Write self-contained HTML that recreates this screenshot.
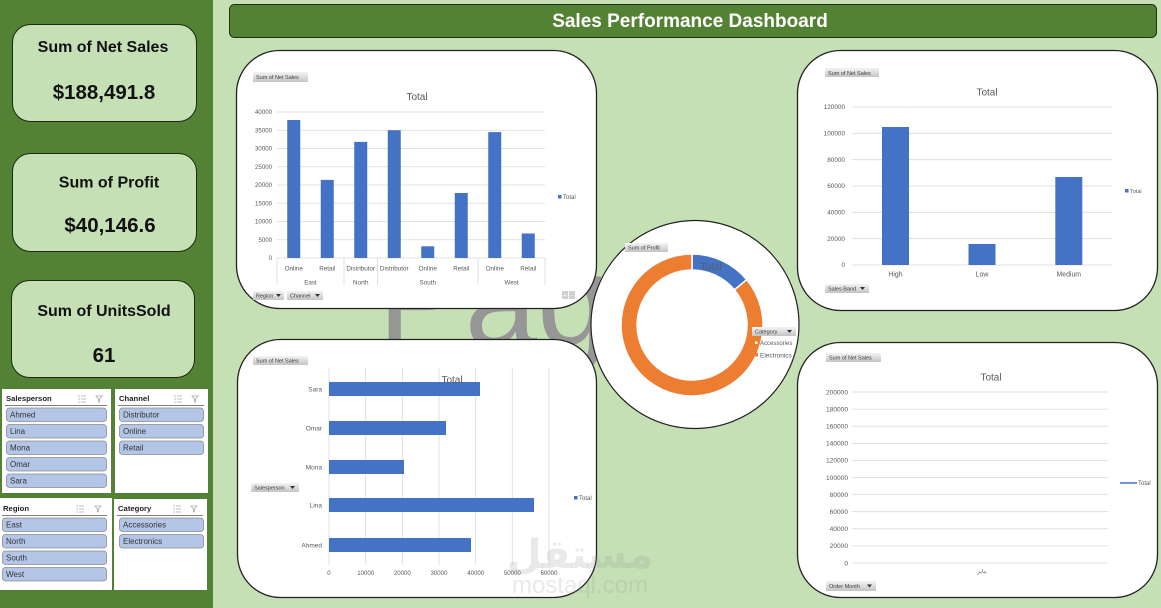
<!DOCTYPE html>
<html><head><meta charset="utf-8"><style>
html,body{margin:0;padding:0;width:1161px;height:608px;overflow:hidden;background:#C5E0B4}
svg{display:block}
text{font-family:"Liberation Sans","DejaVu Sans",sans-serif}
</style></head><body>
<svg width="1161" height="608" viewBox="0 0 1161 608" xmlns="http://www.w3.org/2000/svg">
<defs>
<linearGradient id="btn" x1="0" y1="0" x2="0" y2="1"><stop offset="0" stop-color="#f4f4f4"/><stop offset="1" stop-color="#c4c4c4"/></linearGradient>
</defs>
<rect x="0" y="0" width="1161" height="608" fill="#C5E0B4"/>
<rect x="0" y="0" width="213" height="608" fill="#548235"/>

<!-- watermark Page 1 -->
<text x="378" y="345" font-size="130" fill="#969696">Page 1</text>

<!-- title bar -->
<rect x="229.5" y="4.5" width="927" height="33" rx="5" fill="#548235" stroke="#1f3314" stroke-width="1"/>
<text x="690" y="27" font-size="19" font-weight="bold" fill="#ffffff" text-anchor="middle">Sales Performance Dashboard</text>

<!-- KPI cards -->
<g fill="#111" font-weight="bold" text-anchor="middle">
<rect x="12.5" y="24.5" width="184" height="97" rx="18" fill="#C5E0B4" stroke="#1b2a12"/>
<text x="103" y="52" font-size="16">Sum of Net Sales</text>
<text x="104" y="99" font-size="20.5">$188,491.8</text>
<rect x="12.5" y="153.5" width="184" height="98" rx="18" fill="#C5E0B4" stroke="#1b2a12"/>
<text x="109" y="187.5" font-size="16">Sum of Profit</text>
<text x="110" y="232" font-size="20.5">$40,146.6</text>
<rect x="11.5" y="280.5" width="183" height="97" rx="18" fill="#C5E0B4" stroke="#1b2a12"/>
<text x="104" y="316" font-size="16">Sum of UnitsSold</text>
<text x="104" y="362" font-size="20.5">61</text>
</g>

<!-- slicers -->
<g>
<rect x="2" y="389" width="109" height="104" fill="#fff"/>
<rect x="115" y="389" width="93" height="104" fill="#fff"/>
<rect x="0" y="498" width="112" height="92" fill="#fff"/>
<rect x="114" y="499" width="93" height="91" fill="#fff"/>
<g font-size="7.7" font-weight="bold" fill="#222">
<text x="6" y="401">Salesperson</text>
<text x="119" y="401">Channel</text>
<text x="3" y="511">Region</text>
<text x="118" y="511">Category</text>
</g>
<g stroke="#555" stroke-width="0.8">
<line x1="5" y1="405.5" x2="107" y2="405.5"/>
<line x1="118" y1="405.5" x2="204" y2="405.5"/>
<line x1="2" y1="515.5" x2="107" y2="515.5"/>
<line x1="117" y1="515.5" x2="203" y2="515.5"/>
</g>
<g stroke="#aaa" stroke-width="0.8" fill="none">
<path d="M78 396h2M81 396h5M78 399h2M81 399h5M78 402h2M81 402h5"/>
<path d="M96 396h6l-2.5 3v3l-1 0v-3z"/>
<path d="M174 396h2M177 396h5M174 399h2M177 399h5M174 402h2M177 402h5"/>
<path d="M192 396h6l-2.5 3v3l-1 0v-3z"/>
<path d="M76 506h2M79 506h5M76 509h2M79 509h5M76 512h2M79 512h5"/>
<path d="M95 506h6l-2.5 3v3l-1 0v-3z"/>
<path d="M173 506h2M176 506h5M173 509h2M176 509h5M173 512h2M176 512h5"/>
<path d="M191 506h6l-2.5 3v3l-1 0v-3z"/>
</g>
<g fill="#B4C6E7" stroke="#8a8a8a" stroke-width="0.8">
<rect x="6.5" y="408" width="100" height="13.5" rx="3"/>
<rect x="6.5" y="424.5" width="100" height="13.5" rx="3"/>
<rect x="6.5" y="441" width="100" height="13.5" rx="3"/>
<rect x="6.5" y="457.5" width="100" height="13.5" rx="3"/>
<rect x="6.5" y="474" width="100" height="13.5" rx="3"/>
<rect x="119.5" y="408" width="84" height="13.5" rx="3"/>
<rect x="119.5" y="424.5" width="84" height="13.5" rx="3"/>
<rect x="119.5" y="441" width="84" height="13.5" rx="3"/>
<rect x="2.5" y="518" width="104" height="13.5" rx="3"/>
<rect x="2.5" y="534.5" width="104" height="13.5" rx="3"/>
<rect x="2.5" y="551" width="104" height="13.5" rx="3"/>
<rect x="2.5" y="567.5" width="104" height="13.5" rx="3"/>
<rect x="119.5" y="518" width="84" height="13.5" rx="3"/>
<rect x="119.5" y="534.5" width="84" height="13.5" rx="3"/>
</g>
<g font-size="8" fill="#333">
<text x="10" y="417.5">Ahmed</text>
<text x="10" y="434">Lina</text>
<text x="10" y="450.5">Mona</text>
<text x="10" y="467">Omar</text>
<text x="10" y="483.5">Sara</text>
<text x="123" y="417.5">Distributor</text>
<text x="123" y="434">Online</text>
<text x="123" y="450.5">Retail</text>
<text x="6" y="527.5">East</text>
<text x="6" y="544">North</text>
<text x="6" y="560.5">South</text>
<text x="6" y="577">West</text>
<text x="123" y="527.5">Accessories</text>
<text x="123" y="544">Electronics</text>
</g>
</g>

<!-- Chart 1 -->
<rect x="236.5" y="50.5" width="360" height="258" rx="43" fill="#fff" stroke="#222" stroke-width="1.3"/>
<rect x="253" y="72" width="55" height="10" fill="url(#btn)"/>
<text x="256" y="79" font-size="5.5" fill="#404040">Sum of Net Sales</text>
<text x="417" y="100" font-size="10" fill="#595959" text-anchor="middle">Total</text>
<g stroke="#d9d9d9" stroke-width="0.8">
<line x1="277" y1="112" x2="545" y2="112"/><line x1="277" y1="130.25" x2="545" y2="130.25"/>
<line x1="277" y1="148.5" x2="545" y2="148.5"/><line x1="277" y1="166.75" x2="545" y2="166.75"/>
<line x1="277" y1="185" x2="545" y2="185"/><line x1="277" y1="203.25" x2="545" y2="203.25"/>
<line x1="277" y1="221.5" x2="545" y2="221.5"/><line x1="277" y1="239.75" x2="545" y2="239.75"/>
<line x1="277" y1="258" x2="545" y2="258"/>
<line x1="277" y1="258" x2="277" y2="285"/><line x1="344" y1="258" x2="344" y2="285"/>
<line x1="377.5" y1="258" x2="377.5" y2="285"/><line x1="478" y1="258" x2="478" y2="285"/>
<line x1="545" y1="258" x2="545" y2="285"/>
</g>
<g font-size="6.1" fill="#595959" text-anchor="end">
<text x="272" y="114.2">40000</text><text x="272" y="132.4">35000</text><text x="272" y="150.7">30000</text>
<text x="272" y="168.9">25000</text><text x="272" y="187.2">20000</text><text x="272" y="205.4">15000</text>
<text x="272" y="223.7">10000</text><text x="272" y="241.9">5000</text><text x="272" y="260.2">0</text>
</g>
<g fill="#4472C4">
<rect x="287.25" y="120" width="13" height="138"/>
<rect x="320.75" y="179.9" width="13" height="78.1"/>
<rect x="354.25" y="141.9" width="13" height="116.1"/>
<rect x="387.75" y="130.25" width="13" height="127.75"/>
<rect x="421.25" y="246.3" width="13" height="11.7"/>
<rect x="454.75" y="193" width="13" height="65"/>
<rect x="488.25" y="132.1" width="13" height="125.9"/>
<rect x="521.75" y="233.5" width="13" height="24.5"/>
</g>
<g font-size="6.3" fill="#595959" text-anchor="middle">
<text x="293.75" y="270.5">Online</text><text x="327.25" y="270.5">Retail</text>
<text x="360.75" y="270.5">Distributor</text><text x="394.25" y="270.5">Distributor</text>
<text x="427.75" y="270.5">Online</text><text x="461.25" y="270.5">Retail</text>
<text x="494.75" y="270.5">Online</text><text x="528.25" y="270.5">Retail</text>
<text x="310.5" y="284.5">East</text><text x="360.75" y="284.5">North</text>
<text x="427.75" y="284.5">South</text><text x="511.5" y="284.5">West</text>
</g>
<rect x="558" y="195" width="3.5" height="3.5" fill="#4472C4"/>
<text x="563" y="199" font-size="6" fill="#595959">Total</text>
<rect x="253" y="291" width="31" height="9" fill="url(#btn)"/>
<text x="256" y="297.5" font-size="5.5" fill="#404040">Region</text>
<polygon points="276,294 281,294 278.5,297" fill="#333"/>
<rect x="287" y="291" width="36" height="9" fill="url(#btn)"/>
<text x="290" y="297.5" font-size="5.5" fill="#404040">Channel</text>
<polygon points="315,294 320,294 317.5,297" fill="#333"/>
<rect x="562" y="291" width="6" height="8" fill="#d0d0d0"/>
<rect x="569" y="291" width="6" height="8" fill="#d0d0d0"/>
<text x="565" y="297.5" font-size="6" fill="#fff" text-anchor="middle">+</text>
<text x="572" y="297.5" font-size="6" fill="#fff" text-anchor="middle">-</text>

<!-- Chart 2 -->
<rect x="797.5" y="50.5" width="360" height="260" rx="43" fill="#fff" stroke="#222" stroke-width="1.3"/>
<rect x="825" y="68" width="54" height="9" fill="url(#btn)"/>
<text x="828" y="74.8" font-size="5.5" fill="#404040">Sum of Net Sales</text>
<text x="987" y="95.5" font-size="10" fill="#595959" text-anchor="middle">Total</text>
<g stroke="#d9d9d9" stroke-width="0.8">
<line x1="852" y1="107" x2="1112" y2="107"/><line x1="852" y1="133.33" x2="1112" y2="133.33"/>
<line x1="852" y1="159.67" x2="1112" y2="159.67"/><line x1="852" y1="186" x2="1112" y2="186"/>
<line x1="852" y1="212.33" x2="1112" y2="212.33"/><line x1="852" y1="238.67" x2="1112" y2="238.67"/>
<line x1="852" y1="265" x2="1112" y2="265"/>
</g>
<g font-size="6.4" fill="#595959" text-anchor="end">
<text x="845" y="109.2">120000</text><text x="845" y="135.5">100000</text><text x="845" y="161.9">80000</text>
<text x="845" y="188.2">60000</text><text x="845" y="214.5">40000</text><text x="845" y="240.9">20000</text>
<text x="845" y="267.2">0</text>
</g>
<g fill="#4472C4">
<rect x="882" y="127" width="27" height="138"/>
<rect x="968.5" y="244" width="27" height="21"/>
<rect x="1055.3" y="177" width="27" height="88"/>
</g>
<g font-size="6.9" fill="#595959" text-anchor="middle">
<text x="895.5" y="276.5">High</text><text x="982" y="276.5">Low</text><text x="1068.8" y="276.5">Medium</text>
</g>
<rect x="1125" y="189" width="3.5" height="3.5" fill="#4472C4"/>
<text x="1130" y="193" font-size="5.5" fill="#595959">Total</text>
<rect x="825" y="284" width="44" height="9" fill="url(#btn)"/>
<text x="828" y="290.5" font-size="5.5" fill="#404040">Sales Band</text>
<polygon points="860,287 865,287 862.5,290" fill="#333"/>

<!-- Chart 3 -->
<rect x="237.5" y="339.5" width="359" height="258" rx="43" fill="#fff" stroke="#222" stroke-width="1.3"/>
<rect x="253" y="356" width="55" height="9" fill="url(#btn)"/>
<text x="256" y="362.5" font-size="5.5" fill="#404040">Sum of Net Sales</text>
<g stroke="#d9d9d9" stroke-width="0.8">
<line x1="329" y1="368" x2="329" y2="565"/><line x1="365.7" y1="368" x2="365.7" y2="565"/>
<line x1="402.3" y1="368" x2="402.3" y2="565"/><line x1="439" y1="368" x2="439" y2="565"/>
<line x1="475.7" y1="368" x2="475.7" y2="565"/><line x1="512.3" y1="368" x2="512.3" y2="565"/>
<line x1="549" y1="368" x2="549" y2="565"/>
</g>
<g fill="#4472C4">
<rect x="329" y="382" width="151" height="14"/>
<rect x="329" y="421" width="117" height="14"/>
<rect x="329" y="460" width="75" height="14"/>
<rect x="329" y="498" width="205" height="14"/>
<rect x="329" y="538" width="142" height="14"/>
</g>
<text x="452" y="383" font-size="10" fill="#595959" text-anchor="middle">Total</text>
<g font-size="6.5" fill="#595959" text-anchor="end">
<text x="322" y="391.3">Sara</text><text x="322" y="430.3">Omar</text><text x="322" y="469.3">Mona</text>
<text x="322" y="507.3">Lina</text><text x="322" y="547.3">Ahmed</text>
</g>
<g font-size="6.1" fill="#595959" text-anchor="middle">
<text x="329" y="575">0</text><text x="365.7" y="575">10000</text><text x="402.3" y="575">20000</text>
<text x="439" y="575">30000</text><text x="475.7" y="575">40000</text><text x="512.3" y="575">50000</text>
<text x="549" y="575">60000</text>
</g>
<rect x="574" y="496" width="3.5" height="3.5" fill="#4472C4"/>
<text x="579" y="500" font-size="6" fill="#595959">Total</text>
<rect x="251" y="483" width="48" height="9" fill="url(#btn)"/>
<text x="254" y="489.5" font-size="5.5" fill="#404040">Salesperson</text>
<polygon points="290,486 295,486 292.5,489" fill="#333"/>

<!-- Chart 4 -->
<rect x="797.5" y="342.5" width="360" height="255" rx="43" fill="#fff" stroke="#222" stroke-width="1.3"/>
<rect x="826" y="353" width="55" height="9" fill="url(#btn)"/>
<text x="829" y="359.5" font-size="5.5" fill="#404040">Sum of Net Sales</text>
<text x="991" y="380.5" font-size="10" fill="#595959" text-anchor="middle">Total</text>
<g stroke="#d9d9d9" stroke-width="0.8">
<line x1="852" y1="392" x2="1108" y2="392"/><line x1="852" y1="409.1" x2="1108" y2="409.1"/>
<line x1="852" y1="426.2" x2="1108" y2="426.2"/><line x1="852" y1="443.3" x2="1108" y2="443.3"/>
<line x1="852" y1="460.4" x2="1108" y2="460.4"/><line x1="852" y1="477.5" x2="1108" y2="477.5"/>
<line x1="852" y1="494.6" x2="1108" y2="494.6"/><line x1="852" y1="511.7" x2="1108" y2="511.7"/>
<line x1="852" y1="528.8" x2="1108" y2="528.8"/><line x1="852" y1="545.9" x2="1108" y2="545.9"/>
<line x1="852" y1="563" x2="1108" y2="563"/>
</g>
<g font-size="6.6" fill="#595959" text-anchor="end">
<text x="848" y="394.3">200000</text><text x="848" y="411.4">180000</text><text x="848" y="428.5">160000</text>
<text x="848" y="445.6">140000</text><text x="848" y="462.7">120000</text><text x="848" y="479.8">100000</text>
<text x="848" y="496.9">80000</text><text x="848" y="514">60000</text><text x="848" y="531.1">40000</text>
<text x="848" y="548.2">20000</text><text x="848" y="565.3">0</text>
</g>
<text x="982" y="573" font-size="5.5" fill="#595959" text-anchor="middle">يناير</text>
<line x1="1120" y1="483" x2="1137" y2="483" stroke="#4472C4" stroke-width="1.6"/>
<text x="1138" y="485" font-size="6" fill="#595959">Total</text>
<rect x="826" y="581" width="50" height="10" fill="url(#btn)"/>
<text x="829" y="588" font-size="5.5" fill="#404040">Order Month</text>
<polygon points="867,584.5 872,584.5 869.5,587.5" fill="#333"/>

<!-- Donut -->
<circle cx="695" cy="324.5" r="104" fill="#fff" stroke="#222" stroke-width="1.2"/>
<path d="M692,254 A71,71 0 0 1 746.7,279.7 L734.4,289.9 A55,55 0 0 0 692,270 Z" fill="#4472C4" stroke="#fff" stroke-width="1.5"/>
<path d="M746.7,279.7 A71,71 0 1 1 692,254 L692,270 A55,55 0 1 0 734.4,289.9 Z" fill="#ED7D31" stroke="#fff" stroke-width="1.5"/>
<text x="711" y="270" font-size="10" fill="#595959" fill-opacity="0.85" text-anchor="middle">Total</text>
<rect x="625" y="243" width="43" height="9" fill="url(#btn)"/>
<text x="628" y="249.5" font-size="5.5" fill="#404040">Sum of Profit</text>
<rect x="752" y="327" width="44" height="9" fill="url(#btn)"/>
<text x="755" y="333.5" font-size="5.5" fill="#404040">Category</text>
<polygon points="787,330 792,330 789.5,333" fill="#333"/>
<rect x="754.5" y="341" width="3.5" height="3.5" fill="#fff" stroke="#ED7D31" stroke-width="1"/>
<text x="760" y="345" font-size="6" fill="#595959">Accessories</text>
<rect x="754.5" y="353" width="3.5" height="3.5" fill="#ED7D31"/>
<text x="760" y="357.5" font-size="6.5" fill="#595959">Electronics</text>

<!-- mostaql watermark -->
<text x="580" y="568" font-size="40" font-weight="bold" fill="#999" fill-opacity="0.22" text-anchor="middle" font-family="DejaVu Sans, sans-serif">مستقل</text>
<text x="580" y="593" font-size="24" fill="#999" fill-opacity="0.22" text-anchor="middle">mostaql.com</text>
</svg>
</body></html>
